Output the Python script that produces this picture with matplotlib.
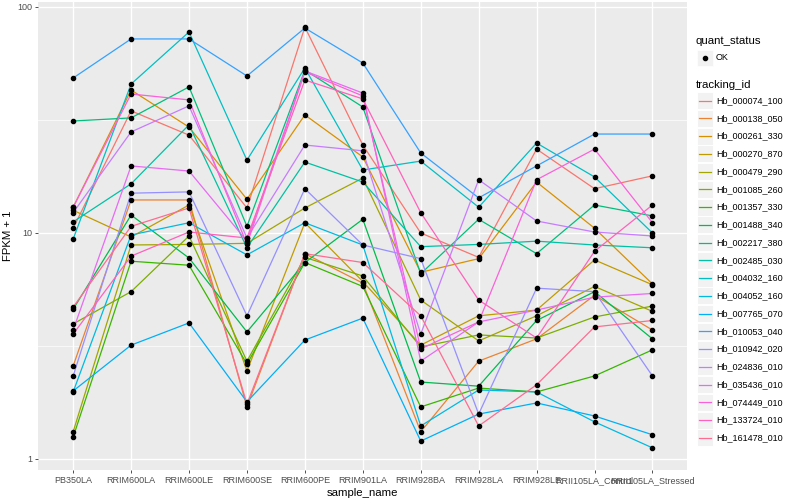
import matplotlib
matplotlib.use('Agg')

from matplotlib import pyplot as plt
from matplotlib.lines import Line2D
from matplotlib.patches import Rectangle
from matplotlib.ticker import FixedLocator, FixedFormatter, NullFormatter

plt.rcParams['font.family'] = ['Liberation Sans', 'DejaVu Sans']

samples = ['PB350LA', 'RRIM600LA', 'RRIM600LE', 'RRIM600SE', 'RRIM600PE',
           'RRIM901LA', 'RRIM928BA', 'RRIM928LA', 'RRIM928LE',
           'RRII105LA_Control', 'RRII105LA_Stressed']

tracking_ids = ['Hb_000074_100', 'Hb_000138_050', 'Hb_000261_330', 'Hb_000270_870',
                'Hb_000479_290', 'Hb_001085_260', 'Hb_001357_330', 'Hb_001488_340',
                'Hb_002217_380', 'Hb_002485_030', 'Hb_004032_160', 'Hb_004052_160',
                'Hb_007765_070', 'Hb_010053_040', 'Hb_010942_020', 'Hb_024836_010',
                'Hb_035436_010', 'Hb_074449_010', 'Hb_133724_010', 'Hb_161478_010']

# FPKM + 1, one list per tracking_id, in sample order
hb_000074_100 = [10.5, 34.7, 27.1, 12.9, 81.5, 24.5, 10.0, 7.8, 23.5, 15.7, 17.9]
hb_000138_050 = [2.58, 14.0, 14.0, 1.70, 8.1, 6.0, 1.32, 2.71, 3.4, 5.3, 3.72]
hb_000261_330 = [13.0, 42.9, 29.4, 14.1, 33.3, 21.7, 6.7, 7.7, 16.8, 10.5, 5.95]
hb_000270_870 = [12.6, 9.6, 13.3, 2.45, 11.1, 6.1, 3.19, 4.3, 4.56, 7.6, 5.9]
hb_000479_290 = [1.32, 8.85, 8.9, 9.0, 12.9, 17.5, 5.05, 3.33, 4.3, 5.8, 4.5]
hb_001085_260 = [3.96, 5.5, 9.7, 2.71, 7.8, 6.45, 3.13, 3.54, 3.43, 4.25, 4.75]
hb_001357_330 = [1.25, 7.5, 7.2, 2.63, 7.4, 5.8, 1.70, 2.06, 1.98, 2.33, 3.04]
hb_001488_340 = [4.6, 12.0, 7.75, 3.65, 7.4, 11.5, 2.19, 2.10, 4.1, 5.5, 3.4]
hb_002217_380 = [31.3, 32.3, 44.3, 10.7, 52.6, 36.1, 6.6, 11.5, 8.1, 13.3, 11.9]
hb_002485_030 = [11.2, 16.5, 30.1, 8.6, 20.6, 16.8, 8.7, 8.9, 9.2, 8.85, 8.6]
hb_004032_160 = [9.4, 45.6, 77.5, 21.0, 53.7, 19.0, 20.8, 13.0, 25.0, 17.7, 10.0]
hb_004052_160 = [1.98, 9.8, 11.1, 8.0, 11.1, 8.85, 1.40, 2.02, 1.98, 1.46, 1.12]
hb_007765_070 = [2.0, 3.19, 4.0, 1.79, 3.36, 4.2, 1.20, 1.58, 1.77, 1.55, 1.28]
hb_010053_040 = [48.5, 72.2, 72.2, 49.5, 80.7, 56.5, 22.6, 14.3, 19.8, 27.4, 27.4]
hb_010942_020 = [2.33, 15.0, 15.2, 4.3, 15.7, 8.85, 7.7, 1.58, 5.7, 5.5, 2.33]
hb_024836_010 = [12.3, 28.0, 36.5, 9.5, 24.5, 23.1, 3.57, 17.2, 11.3, 10.1, 9.7]
hb_035436_010 = [3.72, 19.8, 18.8, 9.2, 52.1, 41.6, 2.71, 4.04, 4.56, 5.2, 5.4]
hb_074449_010 = [13.0, 41.2, 38.8, 8.9, 51.6, 40.4, 3.07, 4.04, 17.2, 23.5, 11.1]
hb_133724_010 = [3.57, 7.9, 10.1, 9.5, 47.5, 39.2, 12.3, 5.05, 3.43, 8.3, 13.3]
hb_161478_010 = [4.7, 10.7, 12.9, 1.75, 8.1, 7.4, 4.3, 1.40, 2.13, 3.84, 4.1]

series = [hb_000074_100, hb_000138_050, hb_000261_330, hb_000270_870,
          hb_000479_290, hb_001085_260, hb_001357_330, hb_001488_340,
          hb_002217_380, hb_002485_030, hb_004032_160, hb_004052_160,
          hb_007765_070, hb_010053_040, hb_010942_020, hb_024836_010,
          hb_035436_010, hb_074449_010, hb_133724_010, hb_161478_010]

# ggplot default hue palette for 20 levels
colors = ['#F8766D', '#EA8331', '#D89000', '#C09B00', '#A3A500', '#7CAE00',
          '#39B600', '#00BB4E', '#00BF7D', '#00C1A3', '#00BFC4', '#00BAE0',
          '#00B0F6', '#35A2FF', '#9590FF', '#C77CFF', '#E76BF3', '#FA62DB',
          '#FF62BC', '#FF6C91']

fig = plt.figure(figsize=(8, 5), dpi=100)
ax = fig.add_axes([0.048, 0.06, 0.811, 0.936])
ax.set_facecolor('#EBEBEB')

x = list(range(len(samples)))
for vals, col in zip(series, colors):
    ax.plot(x, vals, color=col, linewidth=0.9, zorder=3)
for vals in series:
    ax.plot(x, vals, 'o', color='black', markersize=3, zorder=4)

ax.set_yscale('log')
ax.set_ylim(10 ** -0.0487, 10 ** 2.022)
ax.set_xlim(-0.6, 10.6)

ax.yaxis.set_major_locator(FixedLocator([1, 10, 100]))
ax.yaxis.set_major_formatter(FixedFormatter(['1', '10', '100']))
ax.yaxis.set_minor_locator(FixedLocator([10 ** 0.5, 10 ** 1.5]))
ax.yaxis.set_minor_formatter(NullFormatter())
ax.set_xticks(x)
ax.set_xticklabels(samples)

ax.grid(True, which='major', color='white', linewidth=1.0, zorder=0)
ax.grid(True, which='minor', axis='y', color='white', linewidth=0.5, zorder=0)
ax.set_axisbelow(True)
for sp in ax.spines.values():
    sp.set_visible(False)

ax.tick_params(axis='both', which='major', length=2.5, width=0.6, color='#333333',
               labelsize=6.5, labelcolor='#4D4D4D', pad=2)
ax.tick_params(axis='y', which='minor', length=0)
ax.set_xlabel('sample_name', fontsize=8.2, labelpad=2)
ax.set_ylabel('FPKM + 1', fontsize=8.2, labelpad=3)

# legends drawn by hand, pixel coords converted to figure fraction
W, H = 800.0, 500.0


def fx(px):
    return px / W


def fy(py):
    return 1 - py / H


fig.text(fx(696), fy(41), 'quant_status', fontsize=8.2, va='center', ha='left')
fig.add_artist(Rectangle((fx(697), fy(66)), 16 / W, 16 / H, transform=fig.transFigure,
                         facecolor='#F2F2F2', edgecolor='white', linewidth=0.5))
fig.add_artist(Line2D([fx(705)], [fy(58)], marker='o', color='black', markersize=3,
                      transform=fig.transFigure))
fig.text(fx(716), fy(58), 'OK', fontsize=6.5, va='center', ha='left')

fig.text(fx(696), fy(85), 'tracking_id', fontsize=8.2, va='center', ha='left')
step = 17.75
for i, (name, col) in enumerate(zip(tracking_ids, colors)):
    cy = 100.7 + i * step
    fig.add_artist(Rectangle((fx(697), fy(cy + 8.5)), 16 / W, 17 / H,
                             transform=fig.transFigure,
                             facecolor='#F2F2F2', edgecolor='white', linewidth=0.7))
    fig.add_artist(Line2D([fx(699), fx(711)], [fy(cy), fy(cy)], color=col,
                          linewidth=0.9, transform=fig.transFigure))
    fig.text(fx(716), fy(cy), name, fontsize=6.5, va='center', ha='left')

fig.savefig('out.png', dpi=100)
